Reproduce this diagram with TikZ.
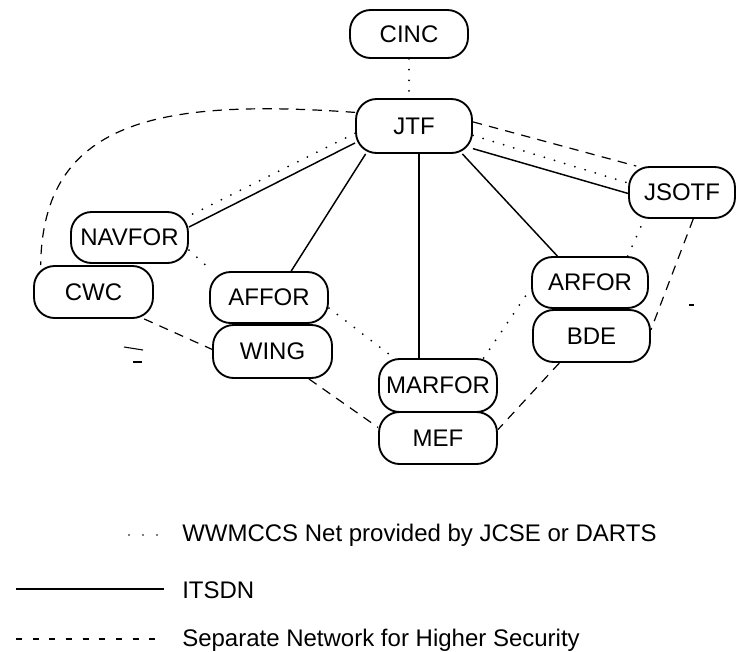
\documentclass[tikz,border=0pt]{standalone}
\usepackage{fontspec}
\setmainfont{Liberation Sans}
\begin{document}
\begin{tikzpicture}[x=0.75pt,y=-0.75pt,
  box/.style 2 args={draw, line width=1.4pt, rounded corners=15.5pt, inner sep=0pt,
    minimum width=#1*0.75pt, minimum height=#2*0.75pt,
    font=\fontsize{18}{20}\selectfont},
  lbl/.style={anchor=west, inner sep=0pt, font=\fontsize{18}{20}\selectfont},
  itsdn/.style={line width=1.1pt},
  wwmccs/.style={line width=1.5pt, line cap=round, dash pattern=on 0pt off 8pt},
  secnet/.style={line width=0.9pt, dash pattern=on 7pt off 5.5pt},
  legdash/.style={line width=0.9pt, dash pattern=on 4.5pt off 8pt},
  legdot/.style={line width=1.2pt, line cap=round, dash pattern=on 0pt off 10.5pt},
  stray/.style={line width=0.8pt}]
\useasboundingbox (0,0) rectangle (737,651);

% nodes
\node[box={118}{48}] (CINC)   at (409,34)    {CINC};
\node[box={116}{54}] (JTF)    at (414,126)   {JTF};
\node[box={106}{51}] (JSOTF)  at (682,192.5) {JSOTF};
\node[box={117}{51}] (NAVFOR) at (129.5,237.5) {NAVFOR};
\node[box={119}{52}] (CWC)    at (93.5,292)  {CWC};
\node[box={118}{51}] (AFFOR)  at (269,297.5) {AFFOR};
\node[box={119}{53}] (WING)   at (272.5,351.5) {WING};
\node[box={118}{53}] (MARFOR) at (438,385.5) {MARFOR};
\node[box={118}{52}] (MEF)    at (438,438) {MEF};
\node[box={116}{51}] (ARFOR)  at (590,282.5) {ARFOR};
\node[box={117}{52}] (BDE)    at (591.5,336) {BDE};

% ITSDN (solid)
\draw[itsdn] (JTF.196) -- (NAVFOR.10);
\draw[itsdn] (JTF.210) -- (AFFOR.50);
\draw[itsdn] ([xshift=3.75pt]JTF.south) -- ([xshift=3.75pt]JTF.south |- MARFOR.north);
\draw[itsdn] (JTF.330) -- (ARFOR.141);
\draw[itsdn] (JTF.339) -- (JSOTF.181);

% WWMCCS (dotted)
\draw[wwmccs] (CINC.south) -- (CINC.south |- JTF.north);
\draw[wwmccs] (JTF.187) -- (NAVFOR.20);
\draw[wwmccs] (NAVFOR.-12) -- (AFFOR.155);
\draw[wwmccs] (AFFOR.-10) -- (MARFOR.148);
\draw[wwmccs] (MARFOR.31) -- (ARFOR.185);
\draw[wwmccs] (ARFOR.35) -- (JSOTF.215);
\draw[wwmccs] (JTF.351) -- (JSOTF.170);

% Separate network (dashed)
\draw[secnet] (JTF.167) .. controls (155,98) and (43,122) .. (CWC.153);
\draw[secnet] (JTF.4) -- (JSOTF.150);
\draw[secnet] (JSOTF.293) -- (BDE.6);
\draw[secnet] (BDE.220) -- (MEF.8);
\draw[secnet] (WING.323) -- (MEF.170);
\draw[secnet] (CWC.332) -- (WING.178);

% stray marks
\draw[stray] (124,347) -- (143,350);
\draw[stray] (133,362) -- (142,362);
\draw[stray] (689,305) -- (694,305);

% legend
\coordinate (d1) at (129,535); \coordinate (d2) at (158,535);
\coordinate (s1) at (16,589);  \coordinate (s2) at (164,589);
\coordinate (k1) at (16,639);  \coordinate (k2) at (164,639);
\draw[legdot] (d1) -- (d2);
\draw[itsdn] (s1) -- (s2);
\draw[legdash] (k1) -- (k2);
\node[lbl] (L1) at (182,535) {WWMCCS Net provided by JCSE or DARTS};
\node[lbl] (L2) at (182,590) {ITSDN};
\node[lbl] (L3) at (182,640) {Separate Network for Higher Security};
\end{tikzpicture}
\end{document}
